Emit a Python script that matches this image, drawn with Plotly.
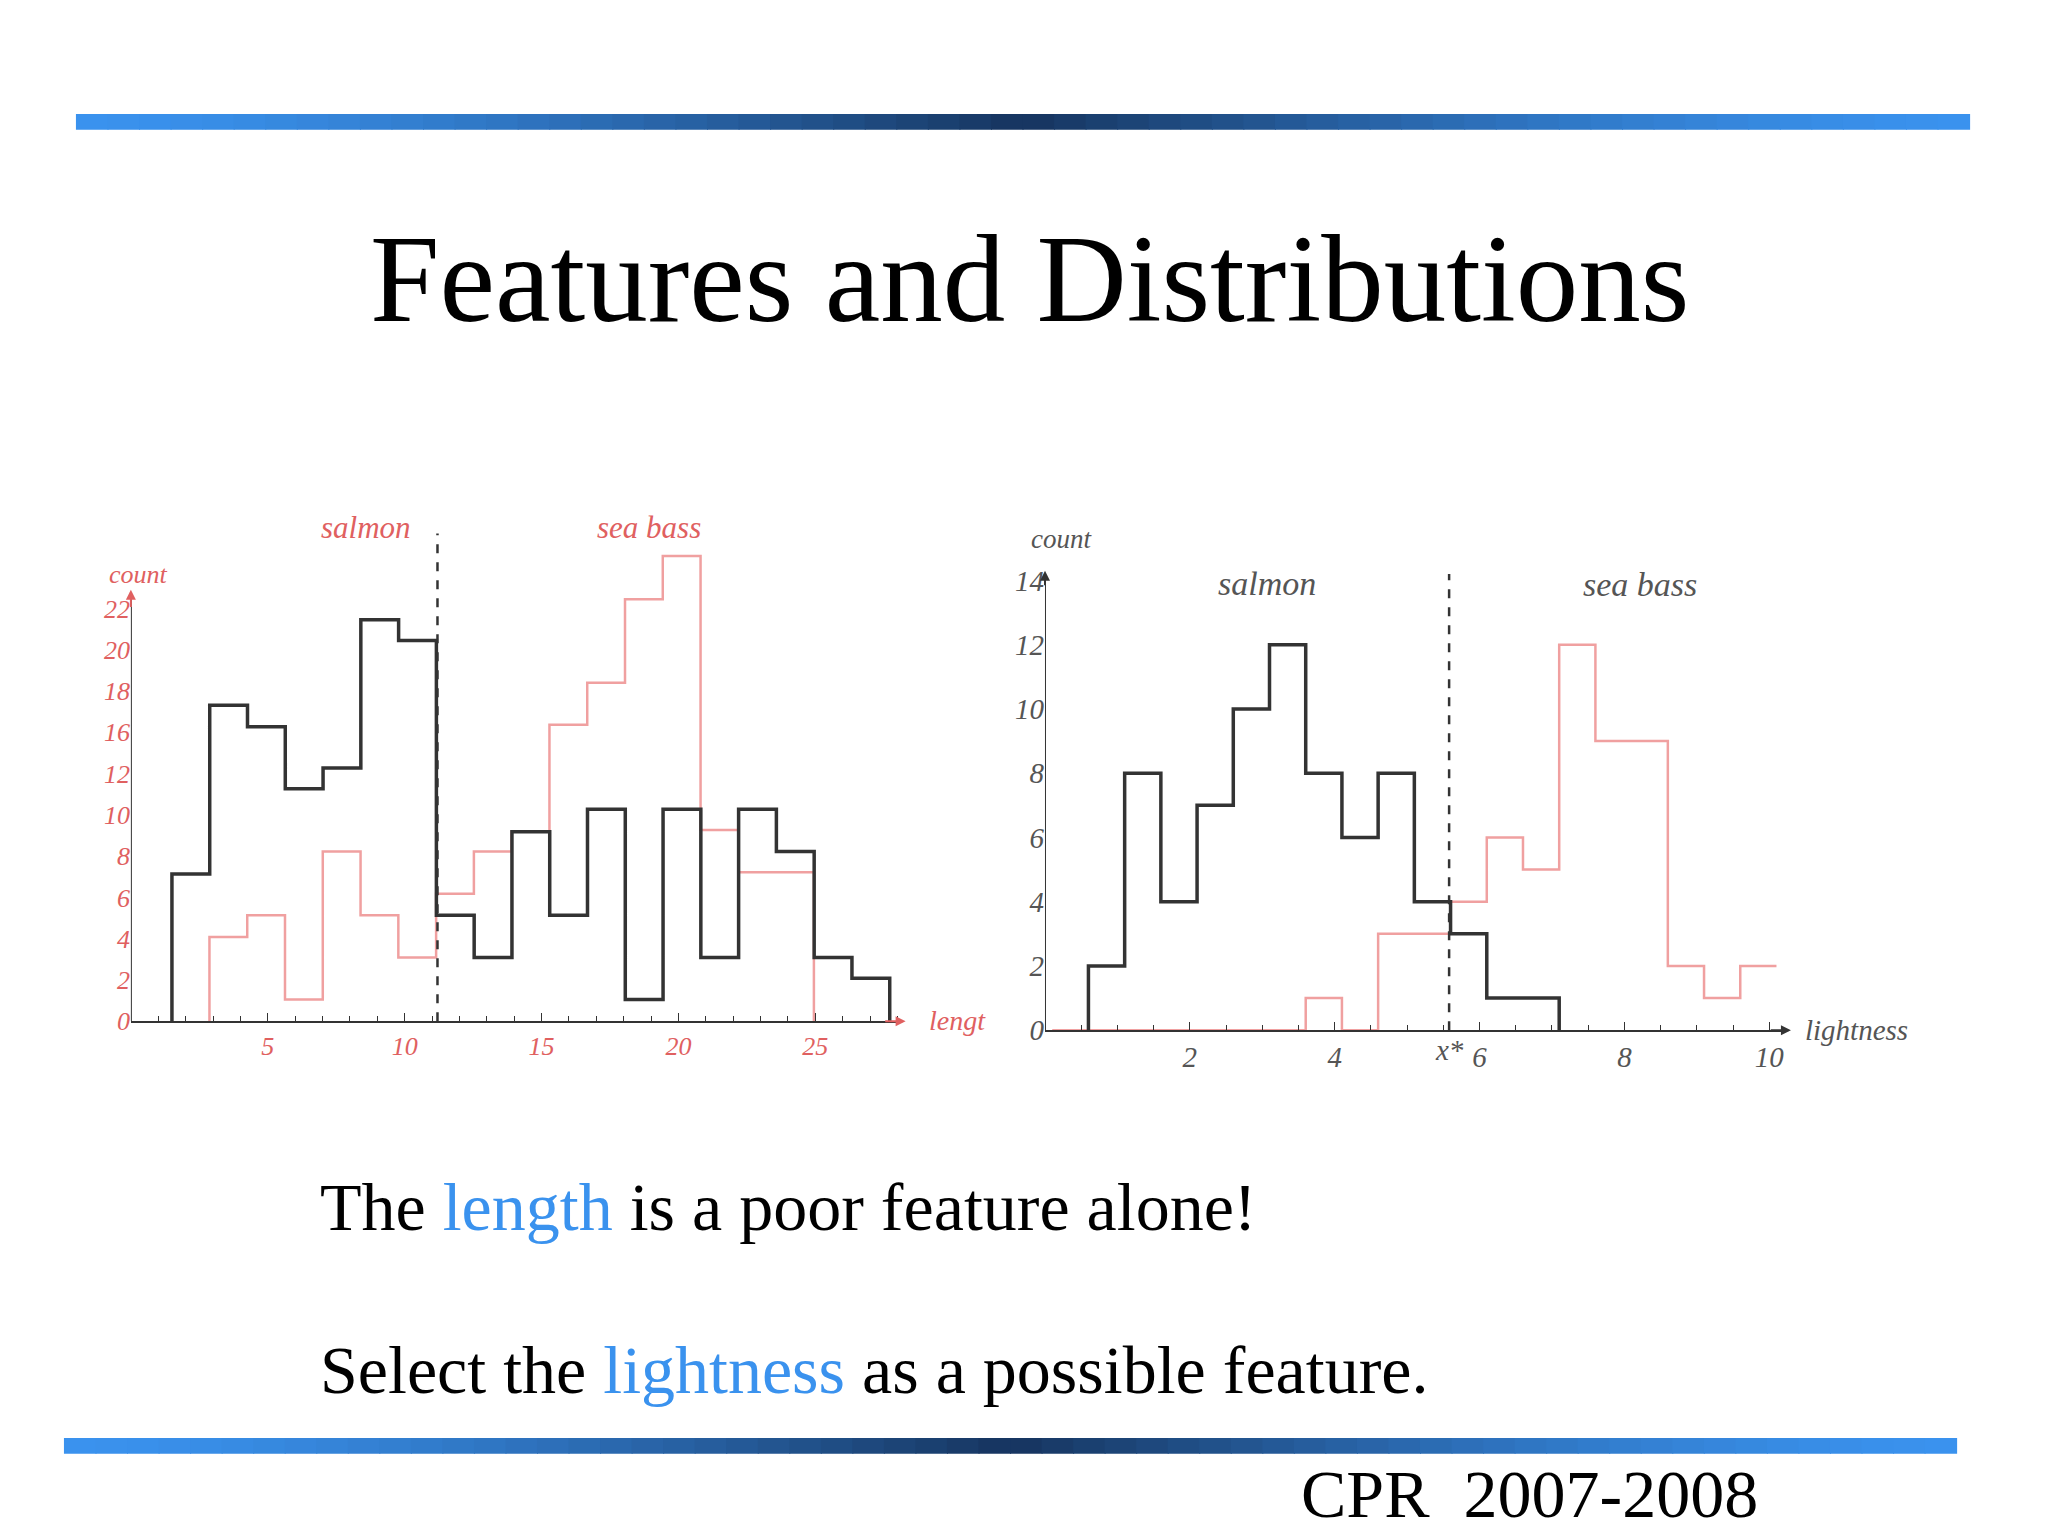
import plotly.graph_objects as go

# ---------------- data ----------------
len_bin_width = 1.38
len_salmon_start = 1.5
len_salmon_counts = [7.85, 16.85, 15.7, 12.4, 13.5, 21.4, 20.3, 5.65, 3.4, 10.1,
                     5.65, 11.3, 1.17, 11.3, 3.4, 11.3, 9.05, 3.4, 2.3]
len_bass_start = 2.87
len_bass_counts = [4.5, 5.65, 1.17, 9.05, 5.65, 3.4, 6.8, 9.05, 10.1, 15.8,
                   18.05, 22.5, 24.8, 10.2, 7.95, 7.95]
len_threshold = 11.2
len_xticks = [5, 10, 15, 20, 25]
len_ytick_text = ["0", "2", "4", "6", "8", "10", "12", "16", "18", "20", "22"]
len_ytick_step = 2.2

lt_bin_width = 0.5
lt_salmon_start = 0.6
lt_salmon_counts = [2, 8, 4, 7, 10, 12, 8, 6, 8, 4, 3, 1, 1]
lt_bass_start = 0.1
lt_bass_counts = [0, 0, 0, 0, 0, 0, 0, 1, 0, 3, 3, 4, 6, 5, 12, 9, 9, 2, 1, 2]
lt_threshold = 5.58
lt_xticks = [2, 4, 6, 8, 10]
lt_yticks = [0, 2, 4, 6, 8, 10, 12, 14]

W, H = 2048, 1536
def px(x): return x / W
def py(y): return 1 - y / H

def step(start, width, counts, close=True):
    edges = [start + i * width for i in range(len(counts) + 1)]
    xs = [edges[0]] + edges[:len(counts)] + [edges[-1]]
    ys = [0] + list(counts) + ([0] if close else [counts[-1]])
    return xs, ys

RED = "#e06060"
PINK = "#f0a0a0"
DARK = "#333333"
GREY = "#555555"
SERIF = "Liberation Serif"

fig = go.Figure()

x, y = step(len_bass_start, len_bin_width, len_bass_counts)
fig.add_trace(go.Scatter(x=x, y=y, mode="lines", line=dict(shape="hv", color=PINK, width=2.5),
                         xaxis="x", yaxis="y", showlegend=False))
x, y = step(len_salmon_start, len_bin_width, len_salmon_counts)
fig.add_trace(go.Scatter(x=x, y=y, mode="lines", line=dict(shape="hv", color=DARK, width=3.5),
                         xaxis="x", yaxis="y", showlegend=False))
fig.add_trace(go.Scatter(x=[len_threshold, len_threshold], y=[0, 27.5], mode="lines",
                         line=dict(color=DARK, width=2.5, dash="dash"),
                         xaxis="x", yaxis="y", showlegend=False))

x, y = step(lt_bass_start, lt_bin_width, lt_bass_counts, close=False)
fig.add_trace(go.Scatter(x=x, y=y, mode="lines", line=dict(shape="hv", color=PINK, width=2.5),
                         xaxis="x2", yaxis="y2", showlegend=False))
x, y = step(lt_salmon_start, lt_bin_width, lt_salmon_counts)
fig.add_trace(go.Scatter(x=x, y=y, mode="lines", line=dict(shape="hv", color=DARK, width=3.5),
                         xaxis="x2", yaxis="y2", showlegend=False))
fig.add_trace(go.Scatter(x=[lt_threshold, lt_threshold], y=[0, 14.2], mode="lines",
                         line=dict(color=DARK, width=2.5, dash="dash"),
                         xaxis="x2", yaxis="y2", showlegend=False))

tickfont_l = dict(family=SERIF, size=26, color=RED)
tickfont_r = dict(family=SERIF, size=29, color=GREY)
it = lambda v: ["<i>%s</i>" % s for s in v]

LX0, LX1 = 123, 893

fig.update_layout(
    width=W, height=H, margin=dict(l=0, r=0, t=0, b=0),
    paper_bgcolor="white", plot_bgcolor="rgba(0,0,0,0)",
    xaxis=dict(domain=[px(LX0), px(LX1)], range=[0, 28.1], tickvals=len_xticks,
               ticktext=it(len_xticks),
               showgrid=False, zeroline=False, showline=True, linecolor=DARK, linewidth=2,
               ticks="inside", ticklen=8, tickcolor=DARK, tickfont=tickfont_l,
               minor=dict(dtick=1, ticks="inside", ticklen=5, tickcolor=DARK),
               anchor="y"),
    yaxis=dict(domain=[py(1024), py(531)], range=[0, 26],
               tickvals=[i * len_ytick_step for i in range(len(len_ytick_text))],
               ticktext=it(len_ytick_text), showgrid=False, zeroline=False,
               showline=False, ticks="", tickfont=tickfont_l, anchor="x"),
    xaxis2=dict(domain=[px(1038), px(1776)], range=[0, 10.18], tickvals=lt_xticks,
                ticktext=it(lt_xticks),
                showgrid=False, zeroline=False, showline=True, linecolor=DARK, linewidth=2,
                ticks="inside", ticklen=8, tickcolor=DARK, tickfont=tickfont_r,
                minor=dict(dtick=0.5, ticks="inside", ticklen=5, tickcolor=DARK),
                anchor="y2"),
    yaxis2=dict(domain=[py(1033), py(546)], range=[0, 15], tickvals=lt_yticks,
                ticktext=it(lt_yticks),
                showgrid=False, zeroline=False, showline=False, ticks="",
                tickfont=tickfont_r, anchor="x2"),
)

shapes = []
shapes.append(dict(type="line", xref="x", yref="y", x0=0, x1=0, y0=0, y1=22.5,
                   line=dict(color=DARK, width=2)))
shapes.append(dict(type="line", xref="x2", yref="y2", x0=0, x1=0, y0=0, y1=14,
                   line=dict(color=DARK, width=2)))

def hexmix(a, b, t):
    a = [int(a[i:i+2], 16) for i in (1, 3, 5)]
    b = [int(b[i:i+2], 16) for i in (1, 3, 5)]
    return "rgb(%d,%d,%d)" % tuple(round(a[i] + (b[i] - a[i]) * t) for i in range(3))

def gradient_bar(x0, x1, yc, h, n=60):
    out = []
    for i in range(n):
        xa = x0 + (x1 - x0) * i / n
        xb = x0 + (x1 - x0) * (i + 1) / n
        t = 1 - abs((i + 0.5) / n - 0.5) * 2
        out.append(dict(type="rect", xref="paper", yref="paper", x0=px(xa), x1=px(xb) + 0.0005,
                        y0=py(yc + h / 2), y1=py(yc - h / 2),
                        fillcolor=hexmix("#3a92ee", "#16345e", t ** 1.5), line=dict(width=0),
                        layer="above"))
    return out

shapes += gradient_bar(68, 1963, 115, 16)
shapes += gradient_bar(56, 1950, 1453, 16)
fig.update_layout(shapes=shapes)

ann = []
def A(text, x, y, size, color="black", xanchor="center", italic=True):
    t = "<i>%s</i>" % text if italic else text
    ann.append(dict(text=t, x=px(x), y=py(y), xref="paper", yref="paper", showarrow=False,
                    xanchor=xanchor, yanchor="middle", font=dict(family=SERIF, size=size, color=color)))

A("Features and Distributions", 1022, 274, 125, italic=False)
A("salmon", 358, 525, 31, RED)
A("sea bass", 642, 525, 31, RED)
A("count", 131, 572, 26, RED)
A("lengt", 920, 1023, 28, RED, xanchor="left")
A("count", 1055, 537, 27, GREY)
A("salmon", 1260, 582, 34, GREY)
A("sea bass", 1634, 583, 34, GREY)
A("lightness", 1797, 1033, 29, GREY, xanchor="left")
A("x*", 1443, 1053, 29, GREY)
A("The <span style='color:#3a92ee'>length</span> is a poor feature alone!", 310, 1212, 68,
  xanchor="left", italic=False)
A("Select the <span style='color:#3a92ee'>lightness</span> as a possible feature.", 310, 1376, 68,
  xanchor="left", italic=False)
A("CPR  2007-2008", 1754, 1502, 68, xanchor="right", italic=False)

ann.append(dict(x=28.3, y=0, ax=27.5, ay=0, xref="x", yref="y", axref="x", ayref="y",
                showarrow=True, arrowhead=2, arrowcolor=RED, arrowwidth=2, text=""))
ann.append(dict(x=0, y=23, ax=0, ay=22, xref="x", yref="y", axref="x", ayref="y",
                showarrow=True, arrowhead=2, arrowcolor=RED, arrowwidth=2, text=""))
ann.append(dict(x=10.3, y=0, ax=10.0, ay=0, xref="x2", yref="y2", axref="x2", ayref="y2",
                showarrow=True, arrowhead=2, arrowcolor=DARK, arrowwidth=2, text=""))
ann.append(dict(x=0, y=14.3, ax=0, ay=13.8, xref="x2", yref="y2", axref="x2", ayref="y2",
                showarrow=True, arrowhead=2, arrowcolor=DARK, arrowwidth=2, text=""))
fig.update_layout(annotations=ann)

fig.write_html("out.html")
